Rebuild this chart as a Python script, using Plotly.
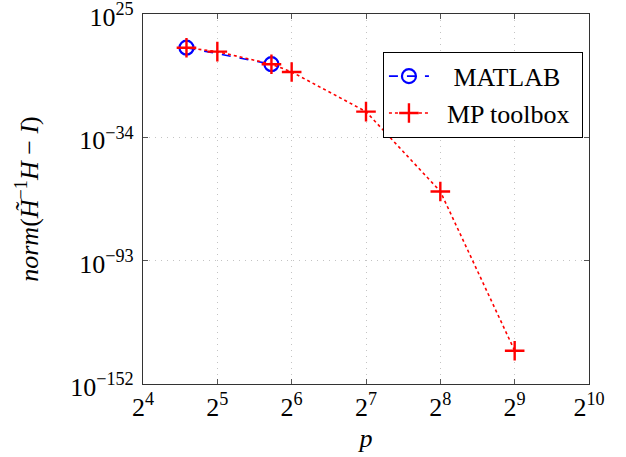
import plotly.graph_objects as go

# Data
matlab_p = [24, 53]
matlab_err = [8e8, 1e1]
mp_p = [24, 32, 53, 64, 128, 256, 512]
mp_err = [8e8, 1e7, 1e1, 2e-3, 2e-22, 1.3e-60, 8e-137]

x_tickvals = [16, 32, 64, 128, 256, 512, 1024]
x_ticktext = ["2<sup>4</sup>", "2<sup>5</sup>", "2<sup>6</sup>", "2<sup>7</sup>",
              "2<sup>8</sup>", "2<sup>9</sup>", "2<sup>10</sup>"]
y_exps = [25, -34, -93, -152]
y_tickvals = [float("1e%d" % e) for e in y_exps]
y_ticktext = ["10<sup>%s</sup>" % (str(e).replace("-", "\u2212")) for e in y_exps]

FONT = "'Liberation Serif', 'Times New Roman', Times, serif"

fig = go.Figure()
fig.add_trace(go.Scatter(
    x=matlab_p, y=matlab_err, name="&nbsp;&nbsp;&nbsp;MATLAB", mode="lines+markers",
    line=dict(color="blue", dash="dash", width=1.6),
    marker=dict(symbol="circle-open", size=14, color="blue", line=dict(width=2.2)),
))
fig.add_trace(go.Scatter(
    x=mp_p, y=mp_err, name="&nbsp;&nbsp;MP toolbox&nbsp;", mode="lines+markers",
    line=dict(color="red", dash="dot", width=1.6),
    marker=dict(symbol="cross-thin", size=14, color="red", line=dict(width=2.4, color="red")),
))

axis_common = dict(
    showline=True, linecolor="#333", linewidth=1.2, mirror="ticks",
    ticks="inside", ticklen=5, tickcolor="#555",
    showgrid=True, gridcolor="#c4c4c4", griddash="1px,5px", gridwidth=1,
    zeroline=False, automargin=False, ticklabeloverflow="allow",
    tickfont=dict(family=FONT, size=26, color="black"),
)

fig.update_xaxes(
    type="log", range=[1.2041199827, 3.0102999566],
    tickmode="array", tickvals=x_tickvals, ticktext=x_ticktext,
    title=dict(text="<i>p</i>", font=dict(family=FONT, size=26, color="black"), standoff=7),
    **axis_common,
)
fig.update_yaxes(
    type="log", range=[-152.02, 25.02],
    tickmode="array", tickvals=y_tickvals, ticktext=y_ticktext,
    ticklabelshift=3, ticklabelstandoff=3,
    title=dict(text="<i>norm</i>(<i>H\u0303</i><sup>\u22121</sup><i>H</i> \u2212 <i>I</i>)",
               font=dict(family=FONT, size=26, color="black"), standoff=24),
    **axis_common,
)

fig.update_layout(
    width=626, height=457,
    margin=dict(l=143, r=37, t=14, b=73, autoexpand=False),
    plot_bgcolor="white", paper_bgcolor="white",
    font=dict(family=FONT, size=26, color="black"),
    legend=dict(
        x=0.538, y=0.898, xanchor="left", yanchor="top",
        bordercolor="black", borderwidth=1, bgcolor="white",
        font=dict(family=FONT, size=26, color="black"),
        itemwidth=40, tracegroupgap=0,
    ),
    showlegend=True,
)

fig.write_html("out.html", config={"displayModeBar": False},
               post_script="document.body.style.margin='0';")
